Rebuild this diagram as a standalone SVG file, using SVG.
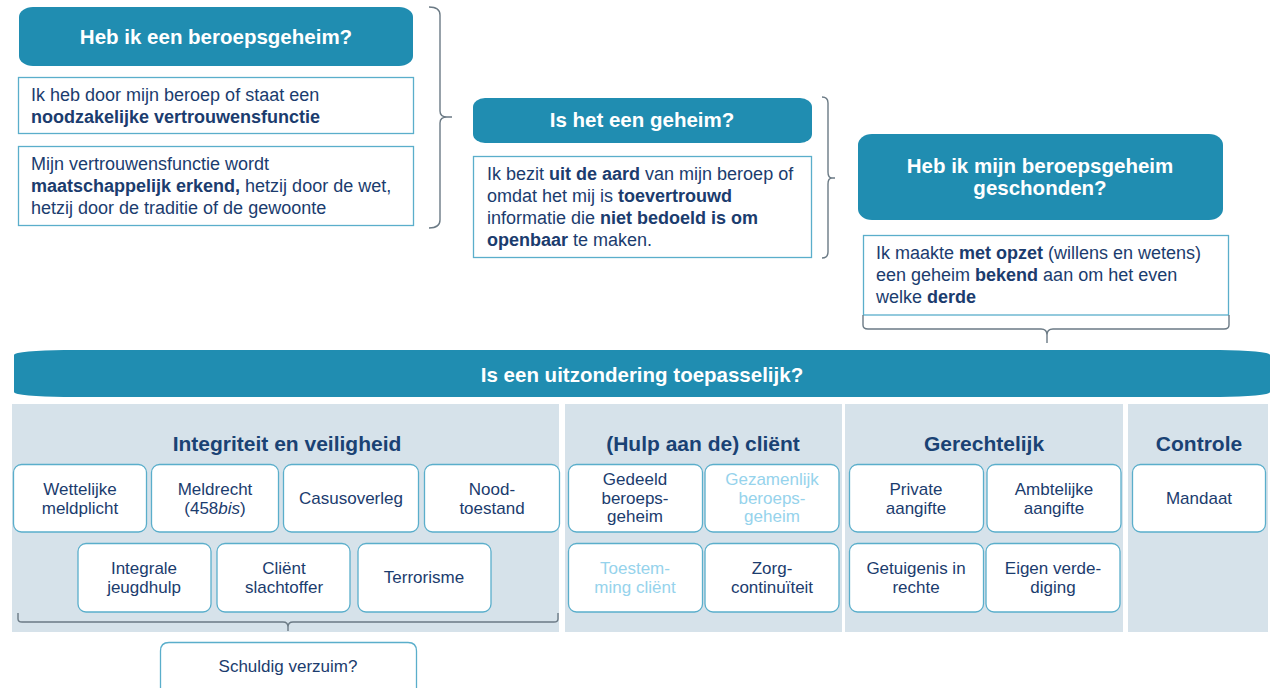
<svg xmlns="http://www.w3.org/2000/svg" width="1275" height="688" viewBox="0 0 1275 688">
<style>
text{font-family:"Liberation Sans",Arial,sans-serif;fill:#1b3c6e}
.hd{fill:#208db1}
.hdt{font-size:20.5px;font-weight:bold;fill:#fff;text-anchor:middle}
.body{fill:#fff;stroke:#5aaecb;stroke-width:1.3}
.bt{font-size:18px}
.b{font-weight:bold}
.panel{fill:#d6e2ea}
.pt{font-size:21px;font-weight:bold;text-anchor:middle;fill:#1a4274}
.sb{fill:#fff;stroke:#5aaecb;stroke-width:1.3}
.st{font-size:17px;text-anchor:middle}
.lt{fill:#96d3ec}
.br{fill:none;stroke:#6b7a85;stroke-width:1.4}
</style>

<g id="q1">
<rect class="hd" x="19" y="7" width="394" height="59" rx="14" ry="10"/>
<text class="hdt" x="216" y="44">Heb ik een beroepsgeheim?</text>
</g>
<g id="q1a">
<rect class="body" x="18.5" y="77.5" width="395" height="56"/>
<text class="bt" x="31" y="101">Ik heb door mijn beroep of staat een</text>
<text class="bt b" x="31" y="123">noodzakelijke vertrouwensfunctie</text>
</g>
<g id="q1b">
<rect class="body" x="18.5" y="146.5" width="395" height="79"/>
<text class="bt" x="31" y="170">Mijn vertrouwensfunctie wordt</text>
<text class="bt" x="31" y="192"><tspan class="b">maatschappelijk erkend,</tspan> hetzij door de wet,</text>
<text class="bt" x="31" y="214">hetzij door de traditie of de gewoonte</text>
</g>

<g id="q2">
<rect class="hd" x="473" y="98" width="339" height="45" rx="12" ry="9"/>
<text class="hdt" x="642" y="127">Is het een geheim?</text>
</g>
<g id="q2a">
<rect class="body" x="473.5" y="156.5" width="338" height="101"/>
<text class="bt" x="487" y="180">Ik bezit <tspan class="b">uit de aard</tspan> van mijn beroep of</text>
<text class="bt" x="487" y="202">omdat het mij is <tspan class="b">toevertrouwd</tspan></text>
<text class="bt" x="487" y="224">informatie die <tspan class="b">niet bedoeld is om</tspan></text>
<text class="bt" x="487" y="246"><tspan class="b">openbaar</tspan> te maken.</text>
</g>

<g id="q3">
<rect class="hd" x="858" y="134" width="365" height="86" rx="14" ry="11"/>
<text class="hdt" x="1040" y="173">Heb ik mijn beroepsgeheim</text>
<text class="hdt" x="1040" y="195">geschonden?</text>
</g>
<g id="q3a">
<rect class="body" x="863.5" y="235.5" width="365" height="79.5"/>
<text class="bt" x="876" y="259">Ik maakte <tspan class="b">met opzet</tspan> (willens en wetens)</text>
<text class="bt" x="876" y="281">een geheim <tspan class="b">bekend</tspan> aan om het even</text>
<text class="bt" x="876" y="303">welke <tspan class="b">derde</tspan></text>
</g>

<g id="q4">
<path class="hd" d="M64,350 H1220 A50,5 0 0 1 1270,355 V392 A50,5 0 0 1 1220,397 H64 A50,5 0 0 1 14,392 V355 A50,5 0 0 1 64,350 Z"/>
<text class="hdt" x="642" y="382">Is een uitzondering toepasselijk?</text>
</g>

<g id="panel-integriteit">
<rect class="panel" x="12" y="404" width="547" height="228"/>
<text class="pt" x="287" y="451">Integriteit en veiligheid</text>
</g>
<g id="panel-client">
<rect class="panel" x="565" y="404" width="277" height="228"/>
<text class="pt" x="703" y="451">(Hulp aan de) cliënt</text>
</g>
<g id="panel-gerechtelijk">
<rect class="panel" x="845" y="404" width="278" height="228"/>
<text class="pt" x="984" y="451">Gerechtelijk</text>
</g>
<g id="panel-controle">
<rect class="panel" x="1128" y="404" width="140" height="228"/>
<text class="pt" x="1199" y="451">Controle</text>
</g>

<g id="n-wettelijke">
<rect class="sb" x="13.5" y="464.5" width="133" height="67.5" rx="8"/>
<text class="st" x="80" y="495">Wettelijke</text>
<text class="st" x="80" y="514">meldplicht</text>
</g>
<g id="n-meldrecht">
<rect class="sb" x="151.5" y="464.5" width="127" height="67.5" rx="8"/>
<text class="st" x="215" y="495">Meldrecht</text>
<text class="st" x="215" y="514">(458<tspan font-style="italic">bis</tspan>)</text>
</g>
<g id="n-casusoverleg">
<rect class="sb" x="283.5" y="464.5" width="135" height="67.5" rx="8"/>
<text class="st" x="351" y="504">Casusoverleg</text>
</g>
<g id="n-noodtoestand">
<rect class="sb" x="424.5" y="464.5" width="135" height="67.5" rx="8"/>
<text class="st" x="492" y="495">Nood-</text>
<text class="st" x="492" y="514">toestand</text>
</g>
<g id="n-integrale">
<rect class="sb" x="78" y="543.5" width="133" height="68.5" rx="8"/>
<text class="st" x="144" y="574">Integrale</text>
<text class="st" x="144" y="593">jeugdhulp</text>
</g>
<g id="n-slachtoffer">
<rect class="sb" x="217" y="543.5" width="133" height="68.5" rx="8"/>
<text class="st" x="284" y="574">Cliënt</text>
<text class="st" x="284" y="593">slachtoffer</text>
</g>
<g id="n-terrorisme">
<rect class="sb" x="358" y="543.5" width="133" height="68.5" rx="8"/>
<text class="st" x="424" y="583">Terrorisme</text>
</g>

<g id="n-gedeeld">
<rect class="sb" x="568.5" y="464.5" width="134" height="67.5" rx="8"/>
<text class="st" x="635" y="485">Gedeeld</text>
<text class="st" x="635" y="503.5">beroeps-</text>
<text class="st" x="635" y="522">geheim</text>
</g>
<g id="n-gezamenlijk">
<rect class="sb" x="705" y="464.5" width="134" height="67.5" rx="8"/>
<text class="st lt" x="772" y="485">Gezamenlijk</text>
<text class="st lt" x="772" y="503.5">beroeps-</text>
<text class="st lt" x="772" y="522">geheim</text>
</g>
<g id="n-toestemming">
<rect class="sb" x="568.5" y="543.5" width="134" height="68.5" rx="8"/>
<text class="st lt" x="635" y="574">Toestem-</text>
<text class="st lt" x="635" y="593">ming cliënt</text>
</g>
<g id="n-zorg">
<rect class="sb" x="705" y="543.5" width="134" height="68.5" rx="8"/>
<text class="st" x="772" y="574">Zorg-</text>
<text class="st" x="772" y="593">continuïteit</text>
</g>

<g id="n-private">
<rect class="sb" x="849.5" y="464.5" width="134" height="67.5" rx="8"/>
<text class="st" x="916" y="495">Private</text>
<text class="st" x="916" y="514">aangifte</text>
</g>
<g id="n-ambtelijke">
<rect class="sb" x="987" y="464.5" width="134" height="67.5" rx="8"/>
<text class="st" x="1054" y="495">Ambtelijke</text>
<text class="st" x="1054" y="514">aangifte</text>
</g>
<g id="n-getuigenis">
<rect class="sb" x="849.5" y="543.5" width="134" height="68.5" rx="8"/>
<text class="st" x="916" y="574">Getuigenis in</text>
<text class="st" x="916" y="593">rechte</text>
</g>
<g id="n-eigen">
<rect class="sb" x="986" y="543.5" width="134" height="68.5" rx="8"/>
<text class="st" x="1053" y="574">Eigen verde-</text>
<text class="st" x="1053" y="593">diging</text>
</g>

<g id="n-mandaat">
<rect class="sb" x="1132.5" y="464.5" width="133" height="67.5" rx="8"/>
<text class="st" x="1199" y="504">Mandaat</text>
</g>

<g id="n-schuldig">
<path class="sb" d="M160.5,700 V651 Q160.5,642.5 169,642.5 H408 Q416.5,642.5 416.5,651 V700"/>
<text class="st" x="288" y="672">Schuldig verzuim?</text>
</g>

<g id="connectors">
<path class="br" d="M429,7 Q440,7 440,15 L440,111 Q440,117 447,117 L452,117 M447,117 Q440,117 440,123 L440,220 Q440,228 429,228"/>
<path class="br" d="M822,97 Q828,97 828,103 L828,172 Q828,178 832,178 L835,178 M832,178 Q828,178 828,184 L828,252 Q828,258 822,258"/>
<path class="br" d="M863,315 L863,325 Q863,329 868,329 L1041,329 Q1047,329 1047,335 L1047,343 M1047,335 Q1047,329 1053,329 L1224,329 Q1229,329 1229,325 L1229,315"/>
<path class="br" d="M18,613 L18,619 Q18,622 22,622 L283,622 Q288,622 288,627 L288,631 M288,627 Q288,622 293,622 L554,622 Q558,622 558,619 L558,613"/>
</g>
</svg>
